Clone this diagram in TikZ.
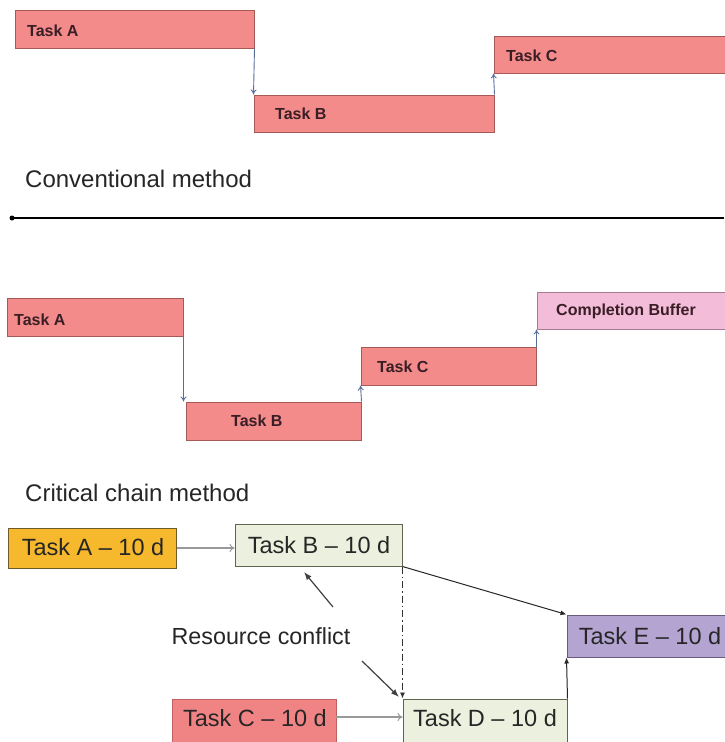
\documentclass[tikz,border=0pt]{standalone}
\usepackage{fontspec}
\setmainfont{Liberation Sans}
\usetikzlibrary{arrows.meta}
\definecolor{salmon}{HTML}{F28B8A}
\definecolor{salmonline}{HTML}{A65A58}
\definecolor{bufpink}{HTML}{F3BCD8}
\definecolor{bufline}{HTML}{A87A94}
\definecolor{orangefill}{HTML}{F6B82C}
\definecolor{orangeline}{HTML}{6E5A2A}
\definecolor{greenfill}{HTML}{EBF1DE}
\definecolor{greenline}{HTML}{5E6650}
\definecolor{purplefill}{HTML}{B3A4D2}
\definecolor{purpleline}{HTML}{6A5A80}
\definecolor{redfill}{HTML}{F08484}
\definecolor{redline}{HTML}{C06060}
\definecolor{bluearrow}{HTML}{5A6E98}
\definecolor{txt}{HTML}{262626}
\definecolor{bartxt}{HTML}{3A1E26}
\begin{document}
\begin{tikzpicture}[x=1pt,y=-1pt,
  box/.style={draw, line width=1pt, inner sep=0pt, rectangle},
  redbox/.style={box, fill=salmon, draw=salmonline},
  bufbox/.style={box, fill=bufpink, draw=bufline},
  orangebox/.style={box, fill=orangefill, draw=orangeline},
  greenbox/.style={box, fill=greenfill, draw=greenline},
  purplebox/.style={box, fill=purplefill, draw=purpleline},
  red2box/.style={box, fill=redfill, draw=redline},
  smalltxt/.style={anchor=west, inner sep=0pt, text=bartxt, font=\fontsize{16}{19}\selectfont\bfseries},
  bigtxt/.style={inner sep=0pt, text=txt, font=\fontsize{23.5}{27}\selectfont},
  labeltxt/.style={anchor=west, inner sep=0pt, text=txt, font=\fontsize{24}{28}\selectfont},
  bluearr/.style={draw=bluearrow, line width=0.9pt, -{To[length=5pt,width=6pt]}},
  grayarr/.style={draw=gray!80, line width=2pt, -{To[length=5pt,width=8pt,line width=1pt]}},
  blackarr/.style={draw=black!85, line width=1pt, -{Latex[length=6pt,width=5pt]}},
  conflictarr/.style={draw=black!75, line width=1.2pt, -{Latex[length=8pt,width=6pt]}}
]
\useasboundingbox (0,0) rectangle (724,742);
\fill[white] (0,0) rectangle (724,742);

% ---------- Conventional method ----------
\node[redbox, minimum width=239pt, minimum height=38pt] (a1) at (134.5,29) {};
\node[redbox, minimum width=240pt, minimum height=37pt] (b1) at (374,113.5) {};
\node[redbox, minimum width=241pt, minimum height=37pt] (c1) at (614.5,54.5) {};
\node[smalltxt] (ta1) at (27,31) {Task A};
\node[smalltxt] (tb1) at (275,114) {Task B};
\node[smalltxt] (tc1) at (506,56) {Task C};
\draw[bluearr] (a1.south east) -- (b1.north west);
\draw[bluearr] (b1.north east) -- (c1.south west);

\node[labeltxt] (conv) at (25,179) {Conventional method};

% separator
\coordinate (sepL) at (12,218);
\coordinate (sepR) at (724,218);
\draw[line width=2pt] (sepL) -- (sepR);
\fill (sepL) circle (2.5pt);

% ---------- Critical chain (bars) ----------
\node[redbox, minimum width=176pt, minimum height=38pt] (a2) at (95,317) {};
\node[redbox, minimum width=175pt, minimum height=38pt] (b2) at (273.5,421) {};
\node[redbox, minimum width=175pt, minimum height=38pt] (c2) at (448.5,366) {};
\node[bufbox, minimum width=198pt, minimum height=37pt] (d2) at (636,310.5) {};
\node[smalltxt] (ta2) at (14,320) {Task A};
\node[smalltxt] (tb2) at (231,421) {Task B};
\node[smalltxt] (tc2) at (377,367) {Task C};
\node[smalltxt] (td2) at (556,311) {Completion Buffer};
\draw[bluearr] (a2.south east) -- (a2.south east |- b2.north);
\draw[bluearr] (b2.north east) -- (c2.south west);
\draw[bluearr] (c2.north east) -- (c2.north east |- d2.south);

\node[labeltxt] (crit) at (25,493) {Critical chain method};

% ---------- Network ----------
\node[orangebox, minimum width=168pt, minimum height=40pt] (A3) at (92,548) {};
\node[greenbox, minimum width=167pt, minimum height=42pt] (B3) at (318.5,545) {};
\node[purplebox, minimum width=168pt, minimum height=42pt] (E3) at (651,636) {};
\node[red2box, minimum width=164pt, minimum height=48pt] (C3) at (254,723) {};
\node[greenbox, minimum width=164pt, minimum height=48pt] (D3) at (485,723) {};
\node[bigtxt] (tA3) at (93,547) {Task A – 10 d};
\node[bigtxt] (tB3) at (319,545) {Task B – 10 d};
\node[bigtxt] (tE3) at (650,636) {Task E – 10 d};
\node[bigtxt] (tC3) at (255,718) {Task C – 10 d};
\node[bigtxt] (tD3) at (485,718) {Task D – 10 d};

\draw[grayarr] (A3.east) -- (A3.east -| B3.west);
\coordinate (cd) at (336,717);
\draw[grayarr] (cd) -- (cd -| D3.west);
\draw[blackarr] (B3.south east) -- (E3.north west);
\draw[blackarr] (D3.north east) -- (E3.south west);
\draw[draw=black!80, line width=0.9pt, dash pattern=on 7pt off 3pt on 1.5pt off 3pt, -{Latex[length=6pt,width=5pt]}] (B3.south east) -- (B3.south east |- D3.north);

\node[bigtxt, font=\fontsize{23.3}{27}\selectfont] (rc) at (261,636) {Resource conflict};
\coordinate (r1s) at (333,607);
\coordinate (r1e) at (304,572);
\coordinate (r2s) at (362,661);
\coordinate (r2e) at (399,697);
\draw[conflictarr] (r1s) -- (r1e);
\draw[conflictarr] (r2s) -- (r2e);
\end{tikzpicture}
\end{document}
